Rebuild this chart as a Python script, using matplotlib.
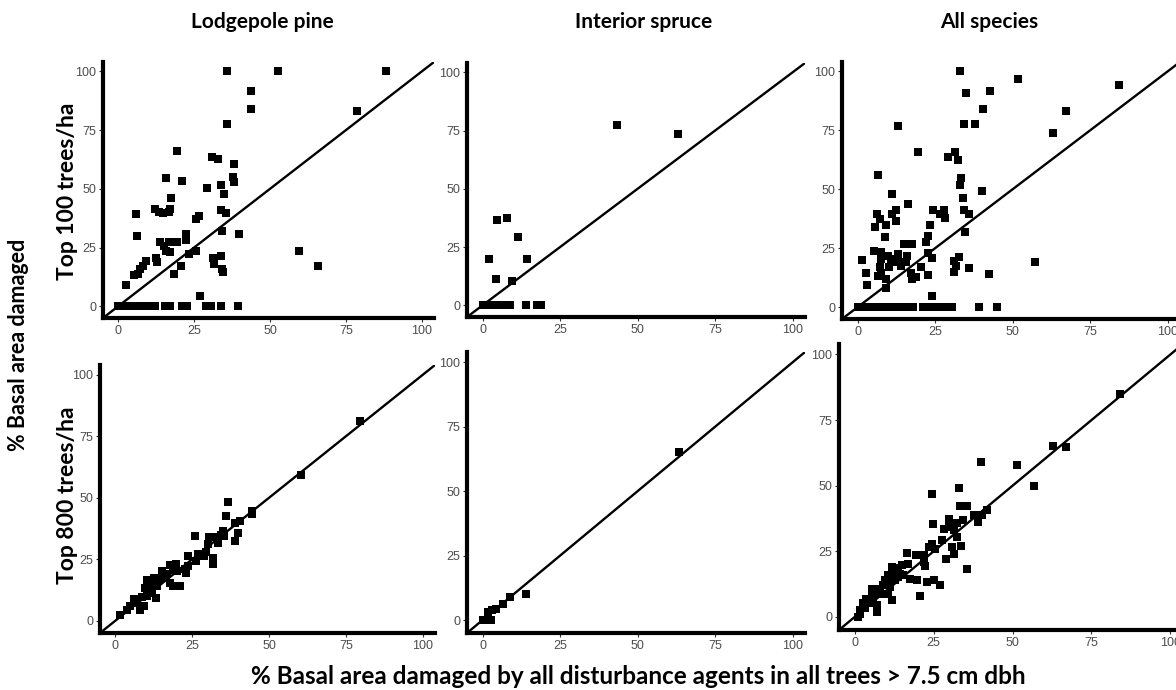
import numpy as np
import matplotlib.pyplot as plt

# ---- data (x = all trees, y = top N trees/ha) ----
# Top 100 trees/ha, Lodgepole pine
lp100_x = [35.8, 52.5, 88.3, 43.6, 43.6, 35.8, 78.6, 19.3, 30.8, 32.8, 38.3, 37.8, 38.3,
           15.6, 21.1, 29.2, 33.7, 35.0, 17.3, 12.0, 13.6, 14.9, 16.6, 17.0, 6.0, 6.2,
           25.7, 26.5, 33.9, 35.5, 34.2, 39.9, 22.4, 19.3, 16.7, 13.7, 15.0, 15.8, 16.9,
           22.4, 25.7, 23.2, 20.8, 18.3, 12.6, 12.9, 9.3, 8.2, 7.1, 5.2, 6.6, 2.7, 31.1,
           31.4, 33.9, 34.1, 34.4, 59.6, 65.9, 26.8,
           0, 1.5, 3, 4.5, 6, 7.5, 9, 10.5, 12, 15.5, 17, 21, 22.5, 29, 30.5, 33.8, 39.5]
lp100_y = [100, 100, 100, 91.7, 84.1, 77.8, 83.2, 65.9, 63.7, 62.7, 60.7, 55.2, 53.1,
           54.8, 53.4, 50.2, 51.6, 47.8, 45.9, 41.2, 40.3, 39.9, 40.1, 41.2, 39.2, 29.8,
           37.0, 38.5, 40.9, 39.7, 32.1, 30.7, 30.8, 27.3, 27.3, 27.5, 25.8, 23.7, 23.0,
           28.3, 23.7, 22.2, 17.2, 13.6, 20.4, 18.7, 19.1, 17.2, 15.8, 13.5, 13.8, 9.2, 20.4,
           17.9, 21.5, 15.8, 14.6, 23.5, 17.2, 4.3,
           0, 0, 0, 0, 0, 0, 0, 0, 0, 0, 0, 0, 0, 0, 0, 0, 0]

# Top 100 trees/ha, Interior spruce
is100_x = [43.5, 63.1, 4.6, 7.8, 11.3, 2.0, 14.5, 4.2, 9.5,
           0, 1, 2, 3, 4, 5, 6, 7, 8, 9, 14, 17.5, 19]
is100_y = [77.4, 73.7, 36.5, 37.4, 29.5, 20.1, 20.1, 11.5, 10.4,
           0, 0, 0, 0, 0, 0, 0, 0, 0, 0, 0, 0, 0]

# Top 100 trees/ha, All species
all100_x = [33.1, 51.6, 84.4, 34.9, 42.6, 40.6, 67.2, 63.0, 34.4, 38.0, 13.2, 19.6, 29.2,
            31.5, 32.5, 6.7, 33.5, 33.0, 34.0, 40.3, 11.0, 16.3, 34.4, 36.0, 34.7, 6.2,
            7.1, 11.0, 12.4, 12.4, 9.2, 5.6, 24.5, 26.7, 28.0, 28.3, 23.4, 22.6, 22.0,
            15.1, 17.5, 8.8, 5.2, 7.5, 7.7, 1.3, 9.9, 10.8, 12.9, 12.9, 14.0, 12.4, 10.2,
            16.1, 15.7, 22.8, 24.0, 7.1, 7.5, 6.5, 2.9, 3.0, 9.1, 9.1, 17.2, 17.5, 18.8,
            20.6, 22.8, 31.2, 31.7, 31.0, 32.8, 36.0, 42.5, 57.3, 24.0, 39.2, 45.0,
            0, 1.5, 3, 4.5, 6, 7.5, 9, 10.5, 12, 13.5, 15, 16.5, 18,
            21, 22.5, 24, 25.5, 27, 28.5, 30.5]
all100_y = [100, 96.9, 94.4, 90.7, 91.7, 84.0, 83.3, 73.7, 77.6, 77.6, 76.7, 66.0, 63.6,
            66.0, 62.4, 56.1, 55.0, 51.9, 46.4, 49.3, 48.0, 43.7, 41.1, 39.4, 32.1, 39.4,
            37.6, 39.6, 41.1, 36.4, 34.7, 33.9, 41.1, 39.4, 41.1, 37.9, 34.7, 30.4, 27.6,
            26.9, 26.9, 29.6, 23.7, 23.3, 20.4, 20.1, 21.6, 19.0, 22.4, 19.0, 17.6, 20.4, 16.9,
            21.9, 19.3, 23.0, 21.0, 16.9, 14.7, 13.3, 14.6, 9.3, 11.9, 8.3, 14.4, 12.1, 12.9,
            16.9, 13.7, 19.7, 17.6, 15.0, 21.1, 16.6, 14.0, 19.3, 4.7, 0, 0,
            0, 0, 0, 0, 0, 0, 0, 0, 0, 0, 0, 0, 0,
            0, 0, 0, 0, 0, 0, 0]

# Top 800 trees/ha, Lodgepole pine
lp800_x = [79.7, 60.4, 36.5, 36.1, 44.4, 44.4, 40.4, 38.8, 39.9, 39.0, 35.0, 34.4, 33.3,
           35.5, 30.6, 30.1, 32.2, 26.0, 31.7, 31.8, 29.5, 29.0, 26.8, 26.2, 23.5, 23.5,
           23.0, 22.7, 19.7, 17.8, 18.6, 15.3, 16.4, 17.8, 21.1, 18.9, 12.6, 10.2, 12.0,
           9.8, 13.1, 10.9, 13.7, 14.2, 8.7, 7.9, 9.3, 6.0, 4.9, 3.8, 1.6, 16.9, 20.2,
           11.8, 10.4, 7.1]
lp800_y = [81.4, 59.1, 48.4, 42.4, 44.7, 43.6, 40.4, 39.6, 35.5, 32.5, 36.6, 34.8, 31.5,
           34.5, 34.2, 31.1, 34.1, 34.5, 25.6, 23.2, 28.1, 26.3, 27.0, 24.3, 26.3, 22.2,
           19.5, 20.9, 23.2, 22.6, 20.6, 20.2, 17.9, 15.4, 14.3, 14.1, 17.2, 16.4, 14.7,
           13.4, 9.3, 12.7, 14.1, 16.8, 9.7, 4.2, 5.9, 8.9, 5.9, 4.5, 2.5, 18.8, 20.2,
           11.3, 10.0, 7.2]

# Top 800 trees/ha, Interior spruce
is800_x = [63.5, 14.0, 9.0, 6.5, 4.3, 3.2, 1.8, 0.2, 2.9]
is800_y = [65.3, 10.3, 8.8, 6.1, 4.5, 4.1, 3.2, 0, 0]

# Top 800 trees/ha, All species
all800_x = [84.0, 62.8, 66.8, 51.3, 39.9, 56.9, 32.9, 24.5, 24.7, 33.2, 34.6, 35.6, 37.8,
            40.4, 42.0, 39.0, 32.4, 34.3, 29.8, 28.2, 29.8, 31.4, 32.4, 30.9, 31.4, 33.7,
            35.6, 27.7, 24.5, 25.5, 23.4, 28.9, 21.8, 22.3, 22.0, 19.5, 16.5, 17.0, 14.9,
            13.3, 11.7, 14.4, 17.6, 19.7, 22.9, 25.0, 26.9, 20.7, 11.7, 9.6, 8.0, 6.9,
            10.6, 12.2, 13.8, 5.3, 5.9, 7.1, 6.9, 4.8, 3.7, 2.7, 1.6, 1.1, 1.6, 3.2, 5.3,
            6.4, 9.0, 10.1, 11.2, 12.8, 13.8, 15.4, 8.5, 10.4]
all800_y = [84.8, 65.1, 64.7, 58.0, 58.9, 49.7, 49.1, 46.7, 35.4, 42.3, 42.3, 42.3, 39.0,
            39.0, 40.6, 36.2, 35.8, 36.8, 37.4, 33.6, 34.3, 33.2, 30.5, 26.6, 23.9, 26.9,
            18.4, 29.2, 27.9, 26.0, 26.6, 22.2, 23.5, 19.3, 20.9, 23.5, 24.5, 20.3, 19.7,
            18.7, 19.0, 16.5, 14.6, 14.2, 13.3, 14.0, 12.1, 7.9, 6.3, 14.0, 10.8, 8.9,
            15.9, 16.5, 17.1, 10.8, 7.6, 4.7, 1.9, 5.1, 7.0, 5.1, 2.5, 0, 1.0, 3.2, 8.2,
            9.5, 12.1, 13.3, 11.4, 14.0, 15.2, 15.9, 8.9, 8.9]

col_titles = ['Lodgepole pine', 'Interior spruce', 'All species']
row_titles = ['Top 100 trees/ha', 'Top 800 trees/ha']
ticks = [0, 25, 50, 75, 100]

panels = [
    (lp100_x, lp100_y), (is100_x, is100_y), (all100_x, all100_y),
    (lp800_x, lp800_y), (is800_x, is800_y), (all800_x, all800_y),
]

W, H = 1176, 690
# axes boxes in pixels: left, top, right, bottom
boxes = [
    (103, 62, 434, 318), (467, 63, 805, 317), (842, 62, 1180, 319),
    (100, 365, 435, 633), (467, 352, 805, 633), (839, 344, 1183, 630),
]

fig = plt.figure(figsize=(W / 100, H / 100), dpi=100)

for (px, py), (l, t, r, b) in zip(panels, boxes):
    ax = fig.add_axes([l / W, 1 - b / H, (r - l) / W, (b - t) / H])
    ax.plot([-5, 104], [-5, 104], color='black', lw=1.7, zorder=2)
    ax.scatter(px, py, marker='s', s=40, color='black', linewidths=0, zorder=3)
    ax.set_xlim(-5, 104)
    ax.set_ylim(-5, 104)
    ax.set_xticks(ticks)
    ax.set_yticks(ticks)
    for side in ['top', 'right']:
        ax.spines[side].set_visible(False)
    for side in ['left', 'bottom']:
        ax.spines[side].set_linewidth(3)
    ax.tick_params(length=3, width=0.8, color='#333333', labelsize=9,
                   labelcolor='#4d4d4d', pad=2)
    for lab in ax.get_xticklabels() + ax.get_yticklabels():
        lab.set_family('Liberation Sans')

tfont = dict(family='Lato', fontweight='bold')
for xc, txt in zip([262, 644, 989], col_titles):
    fig.text(xc / W, 1 - 22 / H, txt, ha='center', va='center', fontsize=15, **tfont)
for yc, txt in zip([191, 495], row_titles):
    fig.text(68 / W, 1 - yc / H, txt, ha='center', va='center', rotation=90,
             fontsize=16.5, **tfont)
fig.text(19 / W, 1 - 345 / H, '% Basal area damaged', ha='center', va='center',
         rotation=90, fontsize=15.5, **tfont)
fig.text(638 / W, 1 - 676 / H,
         '% Basal area damaged by all disturbance agents in all trees > 7.5 cm dbh',
         ha='center', va='center', fontsize=17.5, **tfont)

fig.savefig('out.png', dpi=100)
